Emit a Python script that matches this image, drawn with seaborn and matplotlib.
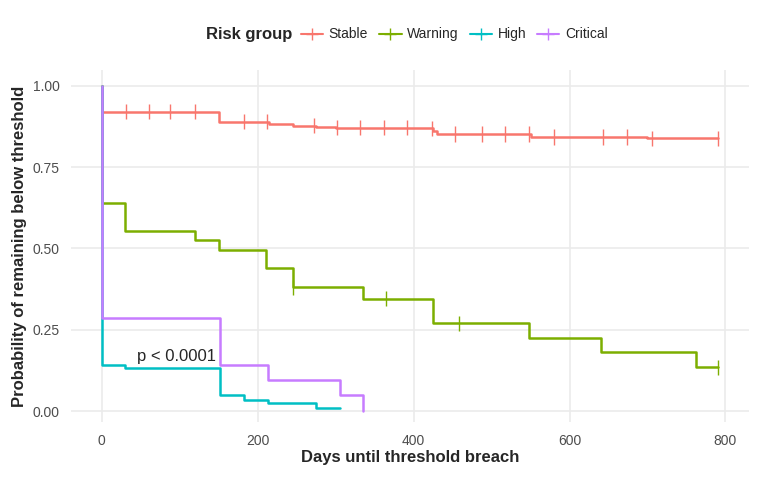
import matplotlib

matplotlib.use("Agg")
import matplotlib.pyplot as plt
from matplotlib.lines import Line2D
from matplotlib.offsetbox import HPacker
import pandas as pd
import seaborn as sns

GROUPS = ["Stable", "Warning", "High", "Critical"]
COLORS = {"Stable": "#F8766D", "Warning": "#7CAE00", "High": "#00BFC4", "Critical": "#C77CFF"}

# step curves: time points and survival after each step
stable_t = [0, 0, 150, 215, 245, 275, 300, 395, 425, 430, 550, 700, 790]
stable_s = [1.0, 0.92, 0.89, 0.882, 0.877, 0.872, 0.871, 0.870, 0.860, 0.852, 0.843, 0.839, 0.839]
warning_t = [0, 0, 30, 120, 150, 210, 245, 335, 425, 548, 640, 762, 790]
warning_s = [1.0, 0.64, 0.555, 0.525, 0.495, 0.44, 0.38, 0.345, 0.27, 0.225, 0.18, 0.135, 0.135]
high_t = [0, 0, 30, 152, 183, 213, 275, 305]
high_s = [1.0, 0.14, 0.133, 0.05, 0.033, 0.025, 0.01, 0.01]
critical_t = [0, 0, 152, 213, 305, 335, 335]
critical_s = [1.0, 0.285, 0.143, 0.095, 0.048, 0.048, 0.0]

# censoring marks
stable_c = [31, 60, 87, 119, 182, 212, 272, 302, 331, 362, 392, 424, 453, 488, 517, 548, 580, 643, 674, 706, 791]
warning_c = [245, 365, 458, 790]

curves = {"Stable": (stable_t, stable_s), "Warning": (warning_t, warning_s),
          "High": (high_t, high_s), "Critical": (critical_t, critical_s)}


def surv_at(t, s, x):
    val = s[0]
    for ti, si in zip(t, s):
        if ti <= x:
            val = si
    return val


rows = []
for g, (t, s) in curves.items():
    for ti, si in zip(t, s):
        rows.append({"time": ti, "surv": si, "group": g})
df = pd.DataFrame(rows)

cens = [{"time": c, "surv": surv_at(*curves["Stable"], c), "group": "Stable"} for c in stable_c]
cens += [{"time": c, "surv": surv_at(*curves["Warning"], c), "group": "Warning"} for c in warning_c]
cdf = pd.DataFrame(cens)

sns.set_theme(style="whitegrid")
plt.rcParams["font.family"] = ["Liberation Sans", "DejaVu Sans"]

fig, ax = plt.subplots(figsize=(7.68, 4.8), dpi=100)
sns.lineplot(data=df, x="time", y="surv", hue="group", palette=COLORS, hue_order=GROUPS,
             estimator=None, sort=False, drawstyle="steps-post", lw=1.8, ax=ax, legend=False)
sns.scatterplot(data=cdf, x="time", y="surv", hue="group", palette=COLORS, marker="|",
                s=120, linewidth=1.0, ax=ax, legend=False)

ax.text(45, 0.155, "p < 0.0001", fontsize=12)
ax.set_xlim(-40, 830)
ax.set_ylim(-0.035, 1.05)
ax.set_xticks([0, 200, 400, 600, 800])
ax.set_yticks([0, 0.25, 0.5, 0.75, 1.0])
ax.set_yticklabels(["0.00", "0.25", "0.50", "0.75", "1.00"])
ax.set_xlabel("Days until threshold breach", fontsize=12, fontweight="bold", labelpad=2)
ax.set_ylabel("Probability of remaining below threshold", fontsize=12, fontweight="bold")
ax.tick_params(labelsize=10, colors="#4d4d4d", pad=2)
ax.set_facecolor("white")
ax.grid(color="#ebebeb", lw=1.2)
for sp in ax.spines.values():
    sp.set_visible(False)

handles = [Line2D([], [], color=COLORS[g], marker="+", markersize=9, lw=1.5) for g in GROUPS]
leg = fig.legend(handles, GROUPS, loc="upper center", ncol=4, frameon=False,
                 title="Risk group", fontsize=10, bbox_to_anchor=(0.53, 0.97),
                 handlelength=1.6, columnspacing=0.8, handletextpad=0.4)
leg.get_title().set_fontweight("bold")
leg.get_title().set_fontsize(12)
# put title to the left of entries
box = leg._legend_box
box.__class__ = HPacker
box.align = "center"
box.sep = 6

fig.subplots_adjust(left=0.092, right=0.975, top=0.855, bottom=0.12)
fig.savefig("out.png", dpi=100)
